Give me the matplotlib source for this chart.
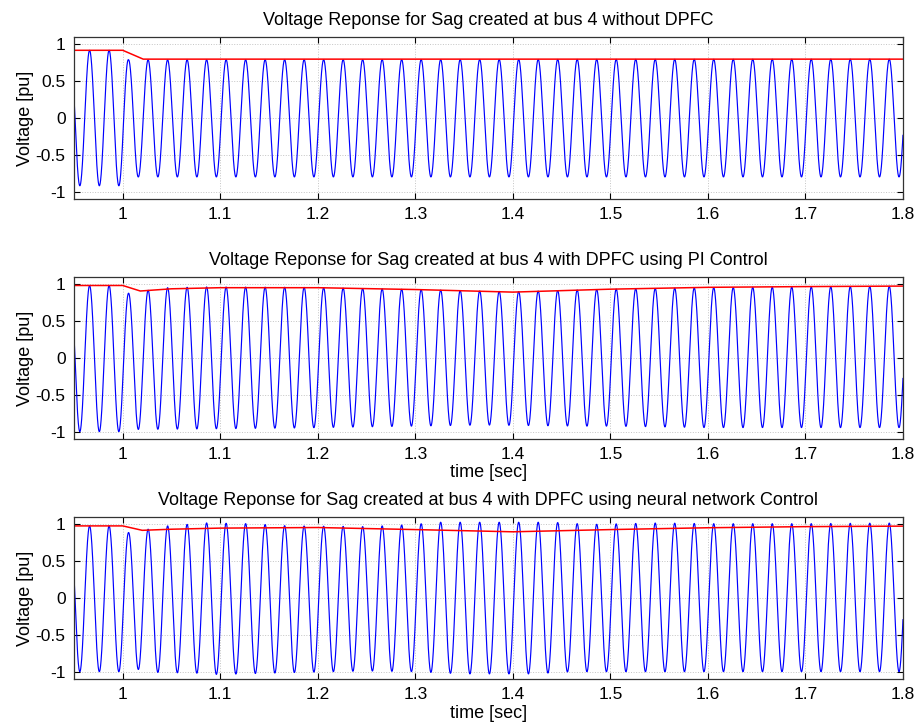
"""
Voltage sag response at bus 4 - without DPFC, DPFC + PI, DPFC + neural network
"""

import numpy as np
import matplotlib
matplotlib.use('Agg')
import matplotlib.pyplot as plt

plt.rcParams['font.family'] = ['Liberation Sans', 'DejaVu Sans']

FREQ = 50.0          # [Hz]
PEAK_T0 = 0.946      # [s] time of a positive peak of the carrier
T_START, T_END = 0.95, 1.8

TITLES = ['Voltage Reponse for Sag created at bus 4 without DPFC',
          'Voltage Reponse for Sag created at bus 4 with DPFC using PI Control',
          'Voltage Reponse for Sag created at bus 4 with DPFC using neural network Control']

# --- case 1: without DPFC ---
red1T = [0.95, 1.0, 1.021, 1.8]
red1V = [0.92, 0.92, 0.80, 0.80]
peak1T = [0.95, 1.0, 1.006, 1.8]
peak1V = [0.92, 0.92, 0.79, 0.80]
trough1T = [0.95, 1.0, 1.016, 1.8]
trough1V = [0.92, 0.92, 0.80, 0.80]

# --- case 2: DPFC with PI control ---
red2T = [0.95, 1.0, 1.018, 1.05, 1.1, 1.2, 1.3, 1.4, 1.5, 1.6, 1.7, 1.8]
red2V = [0.985, 0.985, 0.91, 0.94, 0.955, 0.955, 0.93, 0.895, 0.935, 0.96, 0.97, 0.977]
peak2T = [0.95, 0.99, 1.006, 1.026, 1.046, 1.086, 1.18, 1.3, 1.4, 1.5, 1.6, 1.7, 1.8]
peak2V = [0.985, 0.985, 0.88, 0.92, 0.955, 0.965, 0.96, 0.93, 0.90, 0.935, 0.955, 0.965, 0.975]
trough2T = [0.95, 1.0, 1.016, 1.1, 1.18, 1.25, 1.37, 1.47, 1.5, 1.6, 1.8]
trough2V = [1.0, 1.0, 0.97, 0.96, 0.95, 0.935, 0.91, 0.925, 0.925, 0.945, 0.945]

# --- case 3: DPFC with neural network control ---
red3T = [0.95, 1.0, 1.02, 1.05, 1.1, 1.2, 1.3, 1.4, 1.5, 1.6, 1.7, 1.8]
red3V = [0.98, 0.98, 0.92, 0.935, 0.95, 0.958, 0.93, 0.90, 0.93, 0.955, 0.97, 0.977]
peak3T = [0.95, 0.99, 1.006, 1.026, 1.046, 1.066, 1.086, 1.13, 1.17, 1.25, 1.3, 1.32,
          1.44, 1.48, 1.55, 1.6, 1.7, 1.8]
peak3V = [0.98, 0.98, 0.89, 0.935, 0.98, 1.0, 1.02, 1.01, 0.98, 0.97, 1.0, 1.03,
          1.03, 1.0, 1.02, 1.01, 1.01, 1.02]
trough3T = [0.95, 1.0, 1.016, 1.036, 1.076, 1.1, 1.12, 1.18, 1.25, 1.3, 1.35, 1.42, 1.46, 1.8]
trough3V = [1.0, 1.0, 0.97, 1.01, 1.02, 1.04, 1.03, 1.01, 0.99, 1.0, 1.03, 1.03, 1.0, 1.0]

cases = [
    (red1T, red1V, peak1T, peak1V, trough1T, trough1V),
    (red2T, red2V, peak2T, peak2V, trough2T, trough2V),
    (red3T, red3V, peak3T, peak3V, trough3T, trough3V),
]


def buildWave(t, peakT, peakV, troughT, troughV):
    carrier = np.cos(2 * np.pi * FREQ * (t - PEAK_T0))
    upper = np.interp(t, peakT, peakV)
    lower = np.interp(t, troughT, troughV)
    return np.where(carrier >= 0, upper * carrier, lower * carrier)


if __name__ == '__main__':
    t = np.arange(T_START - 0.001, T_END + 0.001, 5e-5)

    fig = plt.figure(figsize=(9.19, 7.25), dpi=100)

    # axes boxes in figure fraction: [left, bottom, width, height]
    boxes = [[0.0805, 0.7255, 0.902, 0.2234],
             [0.0805, 0.3945, 0.902, 0.2234],
             [0.0805, 0.0634, 0.902, 0.2234]]
    xLabelPads = [None, 1, 2]

    for i, (box, title, case) in enumerate(zip(boxes, TITLES, cases)):
        redT, redV, peakT, peakV, troughT, troughV = case
        ax = fig.add_axes(box)

        v = buildWave(t, peakT, peakV, troughT, troughV)
        ax.plot(t, v, color='#0000ff', lw=0.85)
        ax.plot(redT, redV, color='#ff0000', lw=1.1)

        ax.set_xlim(T_START, T_END)
        ax.set_ylim(-1.1, 1.1)
        ax.set_xticks(np.arange(1.0, 1.81, 0.1))
        ax.set_xticklabels(['1', '1.1', '1.2', '1.3', '1.4', '1.5', '1.6', '1.7', '1.8'])
        ax.set_yticks([-1, -0.5, 0, 0.5, 1])
        ax.set_yticklabels(['-1', '-0.5', '0', '0.5', '1'])

        # matlab-like look
        ax.grid(True, color='#c4c4c4', ls=':', lw=0.7)
        ax.tick_params(direction='in', top=True, right=True, length=4.5, width=0.8,
                       labelsize=12.5, pad=6)
        for sp in ax.spines.values():
            sp.set_color('#333333')
            sp.set_linewidth(0.9)

        ax.set_title(title, fontsize=13, pad=9)
        ax.set_ylabel('Voltage [pu]', fontsize=13, labelpad=1)
        if xLabelPads[i] is not None:
            ax.set_xlabel('time [sec]', fontsize=13, labelpad=xLabelPads[i])

    plt.savefig('out.png', dpi=100)
